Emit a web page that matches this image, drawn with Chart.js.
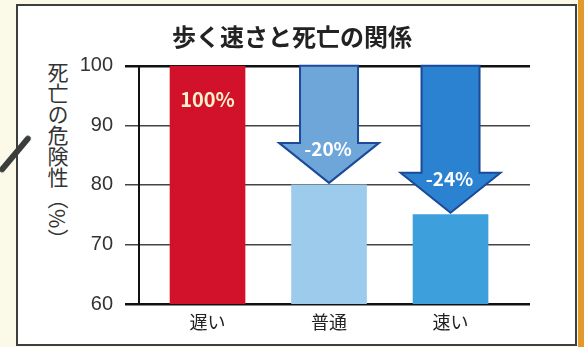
<!DOCTYPE html>
<html>
<head>
<meta charset="utf-8">
<script src="https://cdn.jsdelivr.net/npm/chart.js@4"></script>
<style>
  html, body { margin: 0; padding: 0; }
  body { width: 584px; height: 347px; background: #fbfae8; position: relative; overflow: hidden; }
  #panel { position: absolute; left: 16px; top: 4px; width: 557px; height: 338px; background: #fff; border: 2px solid #3c403c; }
  #strip { position: absolute; left: 578px; top: 0; width: 6px; height: 347px; background: #e39a2c; }
  #pin { position: absolute; left: -8px; top: 151px; width: 46px; height: 6px; background: #3a3d3a; border-radius: 3px; transform: rotate(-50deg); transform-origin: center; }
  #ytitle { position: absolute; left: 46px; top: 62px; writing-mode: vertical-rl; font-family: "Noto Sans CJK JP", sans-serif; font-size: 21px; line-height: 24px; color: #333; }
  #wrap { position: absolute; left: 0; top: 0; width: 584px; height: 347px; }
</style>
</head>
<body>
<div id="panel"></div>
<div id="strip"></div>
<div id="ytitle">死亡の危険性（%）</div>
<div id="wrap"><canvas id="riskChart" width="584" height="347"></canvas></div>
<div id="pin"></div>
<script>
// data
const categories = ['遅い', '普通', '速い'];
const riskValues = [100, 80, 75];
const barLabels = ['100%', '-20%', '-24%'];
const barColors = ['#d2122a', '#9ccbec', '#3d9fdc'];
const arrowFill = [null, '#6fa6da', '#2a82d0'];
const yTicks = [60, 70, 80, 90, 100];

const jp = '"Noto Sans CJK JP", sans-serif';

// arrows from 100% down to each bar, plus the labels
const arrowPlugin = {
  id: 'arrows',
  afterDatasetsDraw(chart) {
    const ctx = chart.ctx;
    const y = chart.scales.y;
    const meta = chart.getDatasetMeta(0);
    ctx.save();
    meta.data.forEach((bar, i) => {
      const cx = bar.x;
      if (i === 0) {
        ctx.fillStyle = '#fff0c8';
        ctx.font = 'bold 20px ' + jp;
        ctx.textAlign = 'center';
        ctx.textBaseline = 'middle';
        ctx.fillText(barLabels[i], cx, y.getPixelForValue(100) + 34);
        return;
      }
      const top = y.getPixelForValue(100);
      const tip = y.getPixelForValue(riskValues[i]) - 2;
      const headTop = tip - 40;
      const sw = 29, hw = 50;
      ctx.beginPath();
      ctx.moveTo(cx - sw, top);
      ctx.lineTo(cx + sw, top);
      ctx.lineTo(cx + sw, headTop);
      ctx.lineTo(cx + hw, headTop);
      ctx.lineTo(cx, tip);
      ctx.lineTo(cx - hw, headTop);
      ctx.lineTo(cx - sw, headTop);
      ctx.closePath();
      ctx.fillStyle = arrowFill[i];
      ctx.fill();
      ctx.lineWidth = 2;
      ctx.lineJoin = 'miter';
      ctx.strokeStyle = '#1b4a98';
      ctx.stroke();
      ctx.fillStyle = '#ffffff';
      ctx.font = 'bold 19px ' + jp;
      ctx.textAlign = 'center';
      ctx.textBaseline = 'middle';
      ctx.fillText(barLabels[i], cx - 1, headTop + 6);
    });
    ctx.restore();
  }
};

const ctx = document.getElementById('riskChart').getContext('2d');
new Chart(ctx, {
  type: 'bar',
  data: {
    labels: categories,
    datasets: [{
      data: riskValues.map((v, i) => ({ x: i, y: v })),
      backgroundColor: barColors,
      barThickness: 75,
      borderWidth: 0
    }]
  },
  plugins: [arrowPlugin],
  options: {
    responsive: false,
    animation: false,
    layout: { padding: 0 },
    plugins: {
      legend: { display: false },
      tooltip: { enabled: false },
      title: {
        display: true,
        text: '歩く速さと死亡の関係',
        color: '#222',
        font: { family: jp, size: 24, weight: 'bold' },
        padding: { top: 22, bottom: 15 }
      }
    },
    scales: {
      x: {
        type: 'linear',
        offset: false,
        min: -0.564,
        max: 2.654,
        afterBuildTicks: s => { s.ticks = categories.map((c, i) => ({ value: i })); },
        afterFit: s => { s.height = 43; },
        grid: { display: false, drawTicks: false, offset: false },
        border: { display: false },
        ticks: {
          callback: v => categories[v],
          color: '#222',
          padding: 7,
          maxRotation: 0,
          font: { family: jp, size: 18 }
        }
      },
      y: {
        min: 60,
        max: 100,
        afterBuildTicks: s => { s.ticks = yTicks.map(v => ({ value: v })); },
        afterFit: s => { s.width = 139; },
        border: { display: true, color: '#111', width: 2 },
        grid: {
          color: c => (c.tick && (c.tick.value === 100 || c.tick.value === 60)) ? '#111' : '#444',
          lineWidth: c => (c.tick && (c.tick.value === 100 || c.tick.value === 60)) ? 2.5 : 1.5,
          tickLength: 14
        },
        ticks: {
          color: '#333',
          padding: 12,
          font: { family: '"Liberation Sans", Arial, sans-serif', size: 20 }
        }
      },
      // empty right-hand box that keeps the plot area ending at the reference's edge
      yRight: {
        position: 'right',
        display: true,
        afterFit: s => { s.width = 54; },
        grid: { display: false, drawTicks: false },
        border: { display: false },
        ticks: { display: false }
      }
    }
  }
});
</script>
</body>
</html>
